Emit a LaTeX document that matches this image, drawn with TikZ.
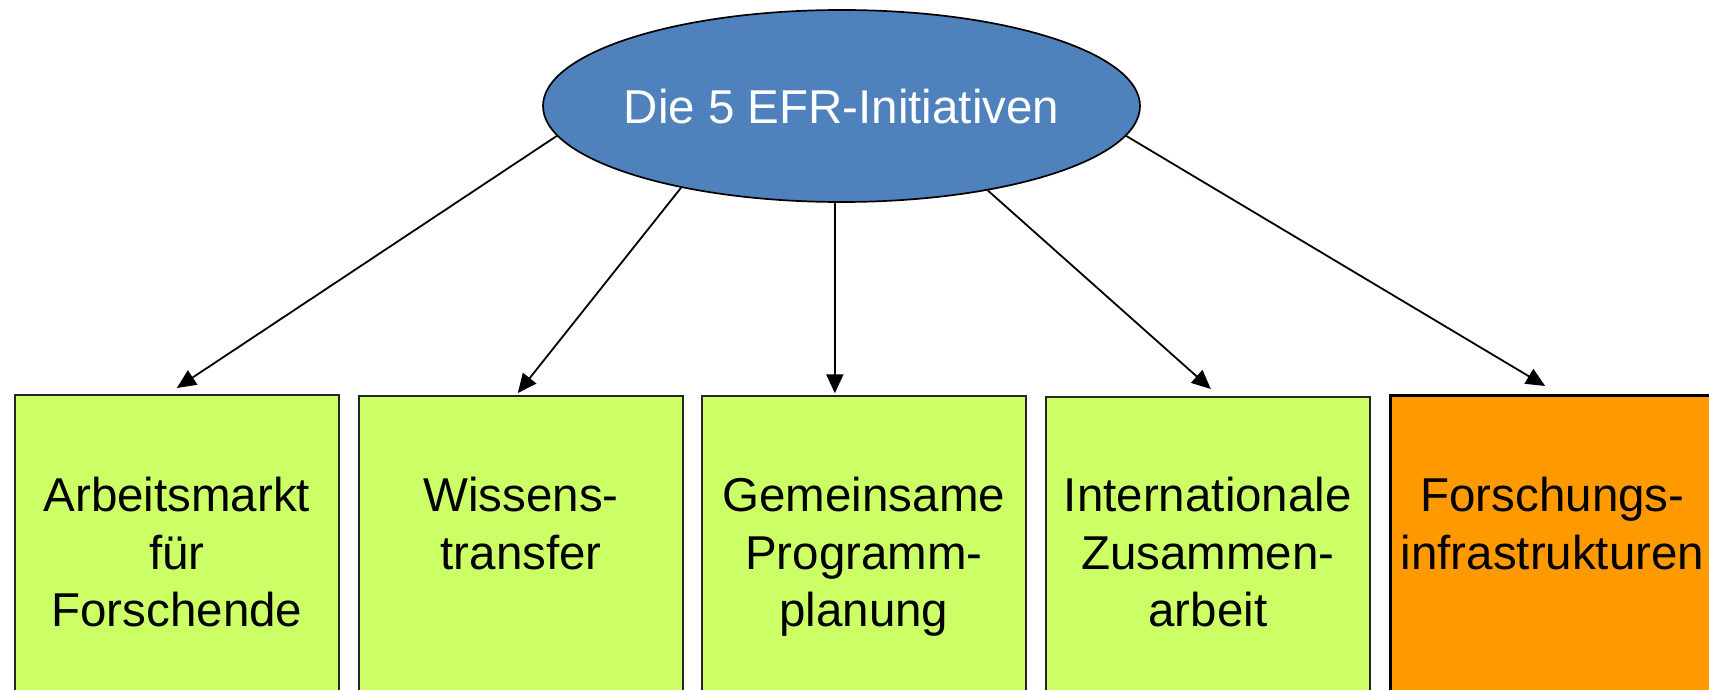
\documentclass[tikz,border=0pt]{standalone}
\usepackage{fontspec}
\setmainfont{Liberation Sans}
\usetikzlibrary{shapes.geometric,arrows.meta}
\definecolor{efrblue}{HTML}{4F81BD}
\definecolor{efrgreen}{HTML}{CCFF66}
\definecolor{efrorange}{HTML}{FF9900}
\newcommand{\boxlines}[1]{\begin{tabular}[t]{@{}c@{}}#1\end{tabular}}
\tikzset{
  bigfont/.style={font=\fontsize{47.5}{57.5}\selectfont},
  initbox/.style={draw=black!85, line width=1.7pt, fill=efrgreen, rectangle, inner sep=0pt,
    minimum width=324pt, minimum height=340pt, anchor=north west},
  infrabox/.style={initbox, draw=black, line width=2.3pt, fill=efrorange},
  boxtext/.style={bigfont, inner sep=0pt, anchor=base},
  conn/.style={line width=1.8pt, -{Triangle[length=19pt,width=17pt]}}
}
\begin{document}
\begin{tikzpicture}[x=1pt,y=-1pt]
\useasboundingbox (0,0) rectangle (1709,690);
\clip (0,0) rectangle (1709,690);
\node[ellipse, draw=black, line width=1.7pt, fill=efrblue, inner sep=0pt,
      minimum width=597pt, minimum height=192pt] (e) at (841.5,106) {};
\node[bigfont, text=white, inner sep=0pt, anchor=base] (et) at (841.5,123.3) {Die 5 EFR-Initiativen};

\node[initbox] (b1) at (14,394) {};
\node[initbox] (b2) at (358.3,395) {};
\node[initbox] (b3) at (701,395) {};
\node[initbox] (b4) at (1045,396) {};
\node[infrabox] (b5) at (1389.3,394.3) {};

\node[boxtext] (t1) at ([yshift=-117.7pt]b1.north) {\boxlines{Arbeitsmarkt\\für\\Forschende}};
\node[boxtext] (t2) at ([yshift=-116.7pt]b2.north) {\boxlines{Wissens-\\transfer}};
\node[boxtext] (t3) at ([yshift=-116.7pt]b3.north) {\boxlines{Gemeinsame\\Programm-\\planung}};
\node[boxtext] (t4) at ([yshift=-115.7pt]b4.north) {\boxlines{Internationale\\Zusammen-\\arbeit}};
\node[boxtext] (t5) at ([yshift=-117.4pt]b5.north) {\boxlines{Forschungs-\\infrastrukturen}};

\coordinate (a3) at ([xshift=-29pt,yshift=1.7pt]b3.north);
\draw[conn] (e.186.1) -- ([yshift=6pt]b1.north);
\draw[conn] (e.207.2) -- ([xshift=-3.3pt,yshift=2pt]b2.north);
\draw[conn] (e.south -| a3) -- (a3);
\draw[conn] (e.330.6) -- ([xshift=3pt,yshift=7pt]b4.north);
\draw[conn] (e.354.4) -- ([xshift=-7.3pt,yshift=8.3pt]b5.north);
\end{tikzpicture}
\end{document}
